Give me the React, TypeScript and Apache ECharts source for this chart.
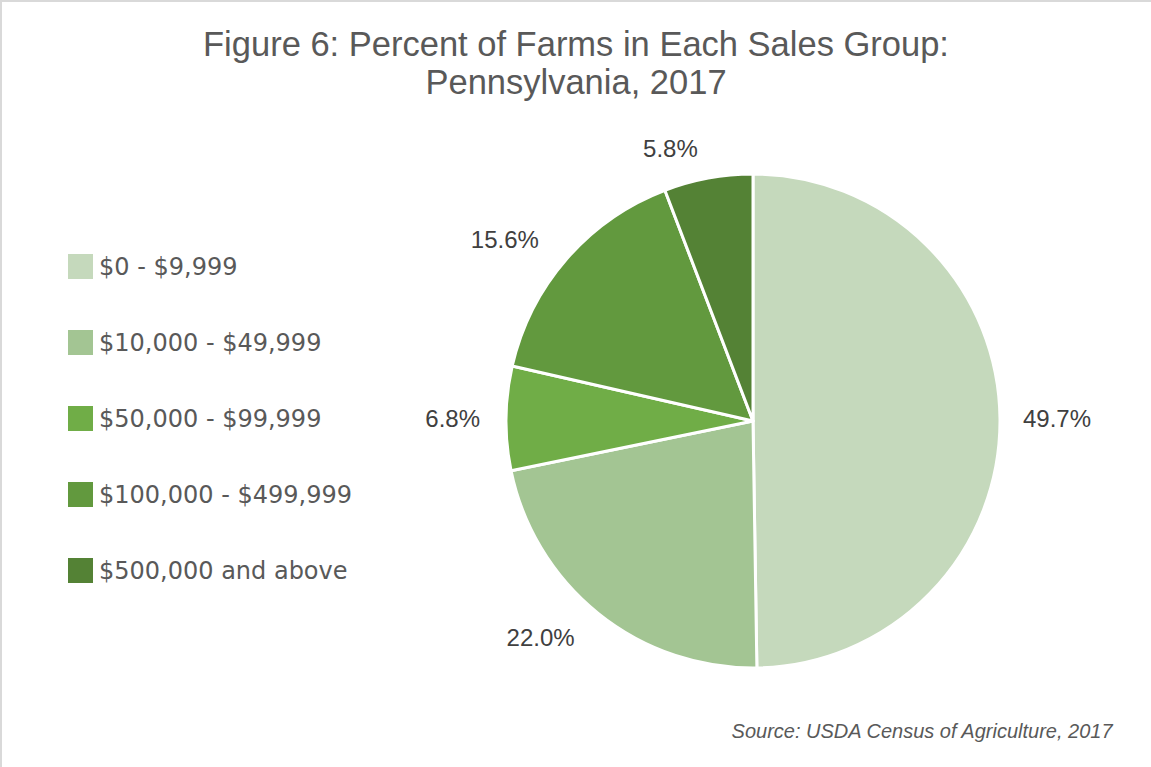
import React, { useEffect, useRef } from "react";
import * as echarts from "echarts";

const titleLines = ["Figure 6: Percent of Farms in Each Sales Group:", "Pennsylvania, 2017"];
const categories = ["$0 - $9,999", "$10,000 - $49,999", "$50,000 - $99,999", "$100,000 - $499,999", "$500,000 and above"];
const percents = [49.7, 22.0, 6.8, 15.6, 5.8];
const colors = ["#C5D9BC", "#A3C593", "#70AD47", "#62993E", "#548235"];
const labelGaps = [18, 30, 21, 30, 30];
const sourceText = "Source: USDA Census of Agriculture, 2017";

export default function App() {
  const ref = useRef<HTMLDivElement>(null);
  useEffect(() => {
    if (!ref.current) return;
    const chart = echarts.init(ref.current, null, { renderer: "svg" });
    chart.setOption({
      animation: false,
      backgroundColor: "transparent",
      graphic: [
        {
          type: "text",
          x: 576,
          y: 25,
          style: {
            text: titleLines.join("\n"),
            textAlign: "center",
            textVerticalAlign: "top",
            fontFamily: "Liberation Sans",
            fontSize: 34.5,
            lineHeight: 38,
            fill: "#595959",
          },
        },
        {
          type: "text",
          right: 37,
          top: 721,
          style: {
            text: sourceText,
            fontFamily: "Liberation Sans",
            fontSize: 20,
            fontStyle: "italic",
            fill: "#595959",
          },
        },
      ],
      legend: {
        orient: "vertical",
        left: 61,
        top: 247,
        itemWidth: 27,
        itemHeight: 27,
        itemGap: 47,
        icon: "rect",
        textStyle: { fontFamily: "DejaVu Sans", fontSize: 24, color: "#595959", padding: [0, 0, 0, 0] },
        data: categories,
      },
      series: [
        {
          type: "pie",
          center: [753, 421],
          radius: [0, 247],
          startAngle: 90,
          clockwise: true,
          avoidLabelOverlap: false,
          itemStyle: { borderColor: "#ffffff", borderWidth: 3 },
          label: {
            show: true,
            position: "outside",
            formatter: (p: any) => p.value.toFixed(1) + "%",
            fontFamily: "Liberation Sans",
            fontSize: 24,
            color: "#404040",
          },
          emphasis: { disabled: true },
          data: categories.map((name, i) => ({
            name,
            value: percents[i],
            itemStyle: { color: colors[i] },
            labelLine: { show: false, length: labelGaps[i], length2: 0 },
          })),
        },
      ],
    });
    return () => chart.dispose();
  }, []);
  return (
    <div
      style={{
        position: "fixed",
        left: 0,
        top: 0,
        width: 1151,
        height: 767,
        boxSizing: "border-box",
        borderTop: "2px solid #D9D9D9",
        borderLeft: "2px solid #D9D9D9",
        background: "#ffffff",
      }}
    >
      <div ref={ref} style={{ position: "absolute", left: -2, top: -2, width: 1151, height: 767 }} />
    </div>
  );
}
